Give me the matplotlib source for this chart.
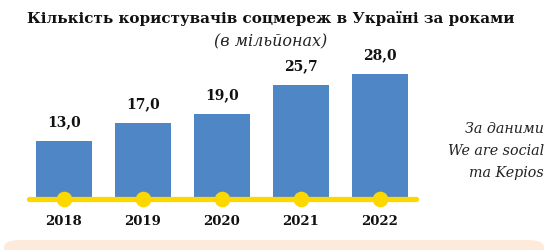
import matplotlib.pyplot as plt
from matplotlib.patches import FancyBboxPatch

# data
years = ["2018", "2019", "2020", "2021", "2022"]
users = [13.0, 17.0, 19.0, 25.7, 28.0]

W, H = 559, 250
fig = plt.figure(figsize=(W / 100, H / 100), dpi=100)
fig.patch.set_facecolor("white")

plt.rcParams["font.family"] = "DejaVu Serif"

# peach box at the bottom
box = FancyBboxPatch((4 / W, -0.2), 540 / W, (H - 240) / H + 0.2,
                     boxstyle="round,pad=0,rounding_size=0.03",
                     transform=fig.transFigure, facecolor="#fdeadb",
                     edgecolor="none", zorder=0)
fig.patches.append(box)

# axes placed in pixels: line from x=27 to 418, baseline at y=199
left, right, base, top = 29, 416, 199, 40
ax = fig.add_axes([left / W, (H - base) / H, (right - left) / W, (base - top) / H])
ax.set_facecolor("none")
step = 79.0
ax.set_xlim((left - 63.7) / step, (right - 63.7) / step)
ax.set_ylim(0, (base - top) / 4.45)
ax.axis("off")

x = list(range(len(years)))
ax.bar(x, users, width=0.71, color="#4f86c6", zorder=2)
ax.axhline(0, color="#fcd800", lw=3.8, zorder=3, solid_capstyle="round",
           clip_on=False)
ax.scatter(x, [0] * len(x), s=105, color="#fcd800", zorder=4, clip_on=False)

for i, v in enumerate(users):
    ax.annotate(f"{v:.1f}".replace(".", ","), (i, v), xytext=(0, 13.5),
                textcoords="offset points", ha="center", va="center",
                fontsize=10, fontweight="bold", color="#111111")
    ax.annotate(years[i], (i, 0), xytext=(0, -16), textcoords="offset points",
                ha="center", va="center", fontsize=9.5, fontweight="bold",
                color="#111111", annotation_clip=False)

fig.text(271 / W, 1 - 18 / H, "Кількість користувачів соцмереж в Україні за роками",
         ha="center", va="center", fontsize=10.9, fontweight="bold", color="#111111")
fig.text(270.5 / W, 1 - 42 / H, "(в мільйонах)", ha="center", va="center",
         fontsize=11.5, style="italic", color="#222222")
fig.text(544 / W, 1 - 151 / H, "За даними\nWe are social\nта Kepios",
         ha="right", va="center", fontsize=10.3, style="italic", color="#222222",
         linespacing=1.7)

fig.savefig("out.png", dpi=100)
